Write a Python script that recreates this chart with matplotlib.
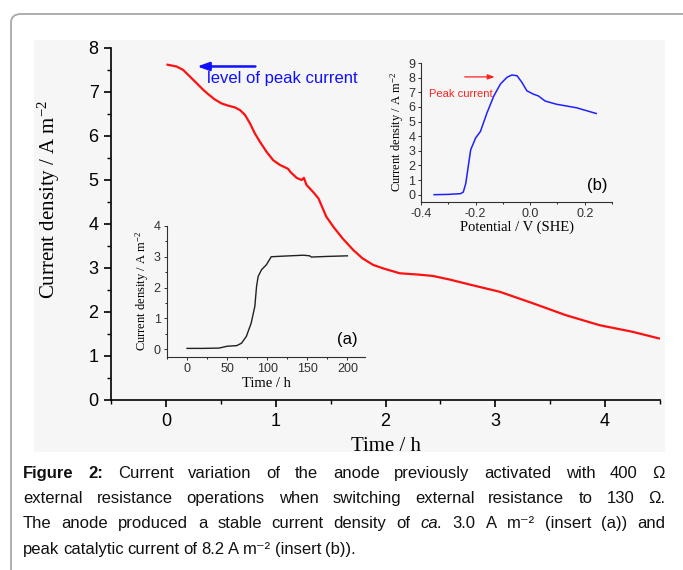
import matplotlib
matplotlib.use("Agg")
import matplotlib.pyplot as plt
from matplotlib.patches import FancyBboxPatch, Rectangle
from matplotlib.ticker import MultipleLocator
from matplotlib import font_manager

# ---------------- data ----------------
# main curve (red): time (h) vs current density (A m^-2)
main_t = [0.015, 0.097, 0.158, 0.219, 0.28, 0.34, 0.385, 0.446, 0.507, 0.567,
          0.628, 0.674, 0.72, 0.765, 0.81, 0.856, 0.917, 0.977, 1.04, 1.10,
          1.114, 1.135, 1.19, 1.236, 1.257, 1.28, 1.34, 1.39, 1.46, 1.53,
          1.61, 1.706, 1.79, 1.888, 1.98, 2.13, 2.30, 2.43, 2.58, 2.79, 3.04,
          3.34, 3.64, 3.95, 4.25, 4.49]
main_j = [7.62, 7.58, 7.50, 7.35, 7.20, 7.05, 6.95, 6.83, 6.74, 6.69,
          6.65, 6.59, 6.48, 6.29, 6.06, 5.87, 5.64, 5.45, 5.34, 5.27,
          5.25, 5.18, 5.05, 5.00, 5.05, 4.89, 4.73, 4.58, 4.17, 3.92,
          3.67, 3.41, 3.22, 3.07, 2.99, 2.88, 2.85, 2.82, 2.74, 2.61, 2.46,
          2.20, 1.93, 1.70, 1.55, 1.40]

# insert (a): time (h) vs current density
a_t = [0, 20, 40, 50, 62, 68, 74, 80, 84.6, 86.7, 88.7, 93, 99, 105, 120,
       145, 153, 155, 174, 200]
a_j = [0.02, 0.02, 0.03, 0.09, 0.11, 0.19, 0.41, 0.84, 1.39, 2.03, 2.36,
       2.58, 2.74, 3.00, 3.02, 3.05, 3.03, 2.99, 3.01, 3.03]

# insert (b): potential (V vs SHE) vs current density
b_v = [-0.352, -0.30, -0.255, -0.245, -0.236, -0.218, -0.200, -0.182, -0.158,
       -0.133, -0.109, -0.085, -0.067, -0.048, -0.030, -0.012, 0.012, 0.030,
       0.055, 0.097, 0.170, 0.242]
b_j = [0.00, 0.02, 0.07, 0.18, 0.76, 3.06, 3.87, 4.33, 5.60, 6.75, 7.56,
       8.02, 8.18, 8.13, 7.67, 7.10, 6.87, 6.75, 6.40, 6.18, 5.94, 5.55]

main_xticks = [0, 1, 2, 3, 4]
main_yticks = [0, 1, 2, 3, 4, 5, 6, 7, 8]
a_xticks = [0, 50, 100, 150, 200]
a_yticks = [0, 1, 2, 3, 4]
b_xticks = [-0.4, -0.2, 0.0, 0.2]
b_yticks = list(range(10))

plt.rcParams['mathtext.default'] = 'regular'

W, H = 683, 570
fig = plt.figure(figsize=(W / 100, H / 100), dpi=100)
fig.patch.set_facecolor('white')

def fx(px):
    return px / W

def fy(py):
    return 1 - py / H

# card border
card = FancyBboxPatch((fx(11), fy(600)), fx(700), (600 - 14) / H,
                      boxstyle="round,pad=0,rounding_size=0.015",
                      transform=fig.transFigure, facecolor='white',
                      edgecolor='#a8a8a8', linewidth=1.3, zorder=-3)
fig.patches.append(card)
# light gray plot background
bg = Rectangle((fx(34), fy(452)), fx(665 - 34), (452 - 40) / H,
               transform=fig.transFigure, facecolor='#f6f6f6',
               edgecolor='none', zorder=-2)
fig.patches.append(bg)

sans = ['Liberation Sans', 'DejaVu Sans']
serif = ['Liberation Serif', 'DejaVu Serif']
avail = {f.name for f in font_manager.fontManager.ttflist}
cap_family = (['Liberation Sans Narrow', 'DejaVu Sans']
              if 'Liberation Sans Narrow' in avail else sans)
cap_fs = 14.5 if 'Liberation Sans Narrow' in avail else 12

# ---------------- main axes ----------------
ax = fig.add_axes([fx(111), fy(400), fx(660 - 111), (400 - 48) / H])
ax.set_facecolor('none')
ax.plot(main_t, main_j, color='#ff1010', lw=1.6)
ax.set_xlim(-0.5, 4.5)
ax.set_ylim(0, 8)
ax.set_xticks(main_xticks)
ax.set_yticks(main_yticks)
ax.xaxis.set_minor_locator(MultipleLocator(0.5))
ax.yaxis.set_minor_locator(MultipleLocator(0.5))
for s in ['top', 'right']:
    ax.spines[s].set_visible(False)
for s in ['left', 'bottom']:
    ax.spines[s].set_linewidth(1.2)
ax.tick_params(which='major', direction='out', length=5, width=1.2,
               labelsize=13, pad=4)
ax.tick_params(which='minor', direction='out', length=3, width=1.0)
for lab in ax.get_xticklabels() + ax.get_yticklabels():
    lab.set_family(sans)
ax.set_xlabel('Time / h', family=serif, fontsize=15)
ax.set_ylabel('Current density / A m$^{-2}$', family=serif, fontsize=15)
ax.xaxis.set_label_coords((386 - 111) / 549, -(437 - 400) / 352)
ax.yaxis.set_label_coords(-(111 - 62) / 549, (400 - 200) / 352)

ax.annotate('', xy=(0.26, 7.58), xytext=(0.84, 7.58),
            arrowprops=dict(arrowstyle='-|>,head_length=0.7,head_width=0.25',
                            color='#1010ff', lw=1.8))
ax.text(1.06, 7.30, 'level of peak current', color='#1010ff', fontsize=12,
        family=sans, ha='center', va='center')

# ---------------- insert (a) ----------------
axa = fig.add_axes([fx(167), fy(357), fx(365 - 167), (357 - 226) / H])
axa.set_facecolor('none')
axa.plot(a_t, a_j, color='#202020', lw=1.0)
axa.set_xlim(-25, 222)
axa.set_ylim(-0.26, 4)
axa.set_xticks(a_xticks)
axa.set_yticks(a_yticks)
axa.xaxis.set_minor_locator(MultipleLocator(25))
axa.yaxis.set_minor_locator(MultipleLocator(0.5))
for s in ['top', 'right']:
    axa.spines[s].set_visible(False)
for s in ['left', 'bottom']:
    axa.spines[s].set_linewidth(0.8)
    axa.spines[s].set_color('#303030')
axa.tick_params(which='major', direction='out', length=2.5, width=0.7,
                labelsize=9, pad=2, colors='#303030')
axa.tick_params(which='minor', direction='out', length=1.5, width=0.6)
for lab in axa.get_xticklabels() + axa.get_yticklabels():
    lab.set_family(sans)
axa.set_xlabel('Time / h', family=serif, fontsize=10.5, labelpad=1)
axa.set_ylabel('Current density / A m$^{-2}$', family=serif, fontsize=9,
               labelpad=2)
axa.text(200, 0.3, '(a)', fontsize=12, family=sans, ha='center',
         va='center')

# ---------------- insert (b) ----------------
axb = fig.add_axes([fx(421), fy(202), fx(612 - 421), (202 - 63) / H])
axb.set_facecolor('none')
axb.plot(b_v, b_j, color='#2020ff', lw=1.1)
axb.set_xlim(-0.4, 0.3)
axb.set_ylim(-0.5, 9)
axb.set_xticks(b_xticks)
axb.set_xticklabels(['-0.4', '-0.2', '0.0', '0.2'])
axb.set_yticks(b_yticks)
axb.xaxis.set_minor_locator(MultipleLocator(0.1))
for s in ['top', 'right']:
    axb.spines[s].set_visible(False)
for s in ['left', 'bottom']:
    axb.spines[s].set_linewidth(0.8)
    axb.spines[s].set_color('#303030')
axb.tick_params(which='major', direction='out', length=2.5, width=0.7,
                labelsize=9, pad=1.5, colors='#303030')
axb.tick_params(which='minor', direction='out', length=1.5, width=0.6)
for lab in axb.get_xticklabels() + axb.get_yticklabels():
    lab.set_family(sans)
axb.set_xlabel('Potential / V (SHE)', family=serif, fontsize=10.5,
               labelpad=1)
axb.set_ylabel('Current density / A m$^{-2}$', family=serif, fontsize=9,
               labelpad=2)
axb.text(0.245, 0.65, '(b)', fontsize=12, family=sans, ha='center',
         va='center')
axb.annotate('', xy=(-0.12, 8.05), xytext=(-0.25, 8.05),
             arrowprops=dict(arrowstyle='-|>,head_length=0.4,head_width=0.15',
                             color='#ff2020', lw=0.9))
axb.text(-0.255, 6.85, 'Peak current', color='#ff2020', fontsize=8,
         family=sans, ha='center', va='center')

# ---------------- caption (justified) ----------------
N, B, I = 'normal', 'bold', 'italic'
cap_lines = [
    [("Figure", B), ("2:", B), ("Current", N), ("variation", N), ("of", N),
     ("the", N), ("anode", N), ("previously", N), ("activated", N),
     ("with", N), ("400", N), ("\u03a9", N)],
    [(w, N) for w in "external resistance operations when switching external "
     "resistance to 130 \u03a9.".split()],
    [(w, N) for w in "The anode produced a stable current density of".split()]
    + [("ca.", I)]
    + [(w, N) for w in "3.0 A m\u207b\u00b2 (insert (a)) and".split()],
    [(w, N) for w in "peak catalytic current of 8.2 A m\u207b\u00b2 "
     "(insert (b)).".split()],
]
cap_baselines = [478, 503, 528, 554]
cap_left, cap_right = 23, 665

fig.canvas.draw()
renderer = fig.canvas.get_renderer()
space_nat = 0.23 * cap_fs * 100 / 72
for li, (line, yb) in enumerate(zip(cap_lines, cap_baselines)):
    objs = []
    for word, sty in line:
        kw = dict(fontsize=cap_fs, family=cap_family, color='#111111',
                  va='baseline', ha='left')
        if sty == B:
            kw['fontweight'] = 'bold'
        if sty == I:
            kw['fontstyle'] = 'italic'
        t = fig.text(0, fy(yb), word, **kw)
        objs.append(t)
    widths = [o.get_window_extent(renderer=renderer).width for o in objs]
    total = sum(widths)
    if li < len(cap_lines) - 1:
        gap = (cap_right - cap_left - total) / (len(objs) - 1)
    else:
        gap = space_nat
    x = cap_left
    for o, w in zip(objs, widths):
        o.set_x(fx(x))
        x += w + gap

fig.savefig('out.png', dpi=100, facecolor='white')
